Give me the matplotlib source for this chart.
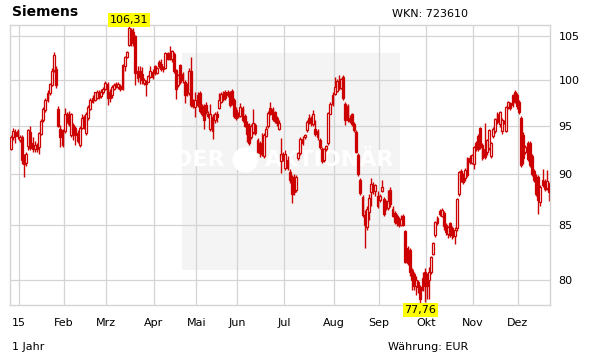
import matplotlib
matplotlib.use("Agg")
import matplotlib.pyplot as plt
from matplotlib.patches import Rectangle, Ellipse
from matplotlib.transforms import blended_transform_factory
from matplotlib.ticker import FixedLocator, NullLocator, FixedFormatter, NullFormatter

# ---- data (daily OHLC, trading-day index) ----
opens = [
    92.6, 93.8, 94.3, 94.4, 93.5, 93.8, 91.9, 91.1, 92.9, 94.3, 93.2, 92.6,
    93.0, 92.8, 94.1, 95.6, 96.7, 97.8, 98.5, 99.4, 101.1, 101.2, 96.8, 94.6,
    93.0, 94.4, 96.3, 96.3, 94.0, 95.1, 94.8, 93.4, 93.0, 94.8, 95.9, 94.2,
    95.8, 96.8, 97.6, 97.8, 98.0, 98.7, 98.2, 98.6, 99.0, 99.5, 98.6, 98.3,
    99.0, 99.5, 99.2, 99.3, 99.0, 101.6, 102.6, 104.0, 105.7, 105.5, 105.0, 101.0,
    101.0, 100.6, 99.6, 99.8, 99.8, 100.3, 100.9, 101.5, 100.8, 102.0, 101.8, 101.4,
    101.3, 103.0, 103.0, 102.3, 102.9, 101.1, 99.4, 101.7, 100.6, 99.8, 99.4, 98.5,
    101.0, 97.6, 97.0, 97.2, 98.5, 97.0, 97.1, 97.2, 96.3, 94.6, 95.9, 95.6,
    96.3, 96.9, 97.6, 98.4, 98.6, 98.3, 98.6, 98.8, 97.8, 96.7, 96.3, 96.0,
    96.9, 96.0, 95.2, 95.0, 93.8, 94.3, 95.1, 93.5, 93.2, 93.0, 91.8, 93.9,
    95.0, 96.9, 96.8, 96.5, 95.8, 94.7, 91.3, 92.0, 90.6, 91.4, 90.2, 89.7,
    89.0, 88.4, 91.6, 92.1, 93.2, 93.8, 94.5, 95.8, 95.8, 95.2, 94.6, 94.4,
    93.5, 92.6, 91.4, 92.6, 93.2, 96.3, 97.3, 98.4, 98.8, 99.9, 99.1, 100.3,
    97.3, 97.1, 95.8, 96.2, 95.2, 94.3, 91.9, 89.4, 87.7, 86.0, 84.8, 86.3,
    88.2, 88.9, 88.3, 87.8, 87.4, 88.3, 87.5, 87.2, 86.7, 88.4, 86.6, 86.2,
    85.9, 85.5, 85.0, 85.9, 84.5, 82.9, 82.7, 80.9, 80.5, 79.4, 79.8, 79.3,
    79.1, 80.7, 80.3, 80.0, 80.7, 82.3, 84.1, 85.2, 86.4, 85.9, 86.2, 85.0,
    84.2, 85.2, 84.7, 84.0, 84.7, 88.0, 90.3, 89.9, 89.6, 89.9, 91.6, 91.1,
    91.0, 93.2, 93.9, 94.8, 93.0, 92.6, 92.2, 92.7, 91.8, 93.9, 94.4, 96.3,
    95.2, 94.4, 95.4, 94.4, 97.0, 97.4, 97.2, 98.6, 98.3, 97.6, 95.8, 94.0,
    92.2, 93.2, 93.2, 91.8, 90.3, 89.7, 89.7, 87.2, 89.4, 89.3, 88.6, 89.0,
]
highs = [
    94.0, 94.8, 94.6, 94.7, 94.0, 94.0, 92.0, 92.3, 94.6, 95.0, 93.8, 93.4,
    93.2, 94.3, 95.7, 97.0, 98.0, 98.9, 99.6, 101.3, 103.2, 101.5, 97.1, 95.1,
    94.6, 96.9, 96.5, 96.6, 96.4, 95.3, 95.0, 94.5, 95.0, 96.2, 96.1, 96.5,
    97.2, 98.0, 98.3, 98.7, 98.9, 98.9, 99.0, 99.2, 99.9, 99.7, 99.0, 99.4,
    99.6, 99.8, 99.7, 99.5, 101.8, 102.7, 103.3, 106.31, 106.0, 106.0, 105.1, 101.6,
    101.5, 101.4, 100.2, 100.0, 100.5, 101.6, 101.2, 101.7, 101.4, 102.2, 102.3, 101.6,
    103.2, 103.1, 103.8, 103.4, 103.1, 101.2, 100.7, 101.8, 100.9, 100.0, 99.6, 101.3,
    102.6, 97.9, 98.6, 98.6, 98.8, 97.3, 97.3, 97.5, 96.6, 97.3, 96.3, 96.5,
    96.6, 98.5, 98.6, 98.8, 98.9, 98.9, 98.8, 99.0, 98.0, 97.0, 96.5, 97.4,
    97.1, 96.2, 95.5, 95.3, 95.2, 96.8, 95.3, 93.7, 93.4, 94.2, 94.2, 95.0,
    96.6, 97.6, 97.0, 96.6, 96.0, 95.6, 93.7, 92.3, 92.5, 91.8, 90.5, 89.9,
    90.0, 89.9, 92.3, 93.8, 93.9, 94.1, 95.6, 96.3, 96.0, 96.7, 95.6, 94.6,
    93.7, 92.8, 92.7, 93.0, 96.5, 97.5, 98.6, 100.3, 100.1, 100.5, 100.2, 100.5,
    97.5, 97.3, 96.1, 96.4, 95.4, 94.5, 92.1, 89.6, 87.9, 86.5, 86.9, 88.0,
    89.6, 89.2, 89.0, 88.3, 88.0, 89.4, 87.7, 87.4, 88.4, 88.7, 86.9, 86.4,
    86.1, 85.8, 86.0, 86.1, 84.6, 83.1, 82.9, 81.0, 80.7, 80.3, 80.0, 79.5,
    80.7, 81.0, 80.6, 81.1, 82.1, 83.4, 85.4, 85.9, 86.6, 86.7, 86.4, 85.2,
    84.9, 85.3, 84.9, 84.8, 87.6, 90.3, 90.5, 90.1, 90.6, 91.7, 91.9, 92.0,
    92.9, 93.4, 94.1, 94.9, 93.2, 95.3, 93.6, 94.6, 93.3, 94.9, 95.8, 96.5,
    96.6, 95.8, 95.6, 97.1, 97.7, 97.6, 98.4, 98.9, 98.5, 97.8, 96.0, 94.3,
    93.0, 93.4, 93.4, 92.0, 90.5, 90.0, 89.9, 88.9, 90.5, 89.5, 90.4, 89.2,
]
lows = [
    92.5, 93.5, 93.2, 93.6, 93.3, 91.0, 89.7, 90.8, 92.5, 92.5, 92.3, 92.2,
    92.3, 92.0, 94.0, 95.4, 96.5, 97.6, 98.3, 99.3, 100.9, 99.1, 94.9, 92.8,
    92.8, 94.2, 95.3, 95.0, 93.8, 93.5, 93.0, 93.2, 92.8, 94.7, 94.6, 94.0,
    95.6, 96.7, 97.4, 97.7, 97.9, 97.9, 98.0, 98.4, 98.9, 97.2, 97.6, 98.0,
    98.9, 99.1, 99.0, 98.8, 98.9, 101.0, 102.5, 103.9, 103.9, 103.8, 99.4, 99.7,
    99.5, 99.5, 99.4, 98.2, 99.7, 100.2, 100.1, 100.5, 100.7, 101.3, 101.0, 100.9,
    101.2, 102.2, 102.2, 102.0, 100.8, 97.9, 99.2, 99.5, 99.6, 97.4, 98.2, 98.3,
    97.0, 96.9, 95.9, 97.0, 96.4, 96.0, 94.6, 96.3, 95.8, 94.4, 93.6, 95.3,
    95.4, 96.8, 97.4, 97.7, 97.8, 98.1, 97.0, 97.2, 95.8, 95.6, 95.8, 95.9,
    95.4, 94.9, 93.3, 93.0, 93.6, 94.1, 94.0, 92.1, 91.7, 91.8, 91.6, 93.8,
    94.8, 96.1, 95.5, 95.3, 95.0, 94.5, 90.1, 91.3, 90.4, 90.4, 89.1, 87.1,
    87.9, 88.2, 91.4, 91.9, 93.0, 93.6, 94.3, 95.2, 95.0, 95.0, 93.9, 93.5,
    92.6, 91.1, 91.2, 92.4, 93.0, 96.2, 97.1, 98.3, 98.6, 98.9, 99.0, 97.8,
    95.1, 95.4, 95.3, 95.0, 94.3, 92.1, 89.8, 87.9, 85.8, 82.9, 84.6, 85.5,
    86.9, 88.0, 87.8, 86.7, 87.2, 88.2, 85.9, 86.5, 86.5, 86.8, 85.8, 85.1,
    84.9, 84.8, 84.9, 84.9, 81.5, 81.3, 80.3, 79.1, 79.1, 78.6, 78.8, 77.76,
    79.0, 78.0, 78.3, 78.3, 80.5, 82.2, 83.9, 85.0, 85.9, 85.8, 84.6, 84.1,
    83.8, 83.9, 83.7, 83.2, 84.5, 87.8, 89.2, 89.0, 89.3, 89.7, 91.0, 91.0,
    90.5, 92.4, 92.4, 92.6, 91.4, 91.5, 91.9, 92.5, 91.6, 93.7, 94.2, 95.2,
    94.9, 94.1, 95.2, 94.3, 96.8, 96.7, 97.0, 97.4, 96.8, 96.3, 90.7, 91.0,
    92.0, 91.3, 90.7, 89.8, 89.2, 87.8, 86.1, 86.9, 88.7, 88.3, 88.4, 87.3,
]
closes = [
    93.8, 94.4, 93.9, 93.9, 93.8, 91.4, 91.0, 92.0, 94.5, 92.7, 92.6, 93.0,
    92.6, 94.2, 95.5, 96.8, 97.8, 98.5, 99.5, 101.0, 102.8, 99.4, 95.0, 93.8,
    94.5, 96.2, 95.5, 95.2, 96.2, 94.2, 94.0, 94.2, 94.8, 95.8, 95.3, 96.3,
    97.0, 97.8, 98.0, 98.6, 98.7, 98.1, 98.7, 99.0, 99.6, 98.0, 98.0, 99.2,
    99.4, 99.3, 99.5, 99.0, 101.7, 102.6, 103.2, 106.0, 104.2, 104.3, 100.8, 100.2,
    100.3, 100.0, 100.0, 99.5, 100.4, 101.0, 100.3, 100.8, 101.3, 101.5, 101.2, 101.2,
    103.0, 102.4, 102.4, 103.3, 101.0, 99.0, 100.5, 99.8, 100.0, 98.3, 98.5, 101.0,
    97.2, 97.1, 97.8, 98.3, 96.6, 96.3, 95.6, 96.5, 96.0, 96.3, 94.4, 96.3,
    95.9, 97.8, 98.4, 97.9, 98.0, 98.6, 97.2, 97.4, 96.0, 95.8, 96.0, 97.0,
    95.6, 95.0, 94.1, 93.2, 95.0, 95.3, 94.2, 92.3, 92.1, 92.0, 94.0, 94.7,
    96.4, 96.3, 95.7, 95.5, 95.3, 95.3, 92.0, 91.6, 92.0, 90.6, 89.4, 88.0,
    88.2, 89.7, 92.1, 93.6, 93.6, 94.0, 95.4, 95.4, 95.3, 96.3, 94.1, 93.8,
    92.8, 91.3, 92.6, 92.9, 96.4, 97.3, 98.3, 99.2, 99.9, 99.1, 100.1, 98.0,
    95.6, 95.6, 95.5, 95.2, 94.5, 92.3, 90.0, 88.1, 86.0, 85.0, 86.6, 87.6,
    89.0, 88.4, 88.9, 86.9, 87.8, 88.7, 86.1, 86.8, 87.3, 87.0, 85.9, 85.3,
    85.2, 85.0, 85.6, 85.0, 81.6, 81.5, 80.7, 80.0, 79.4, 80.0, 79.3, 78.3,
    80.1, 79.4, 79.4, 80.7, 82.0, 83.3, 85.3, 85.7, 86.1, 86.5, 84.9, 84.4,
    84.8, 84.1, 83.9, 84.6, 87.5, 90.2, 89.4, 89.2, 90.4, 91.6, 91.2, 91.9,
    92.8, 92.6, 92.6, 92.8, 91.6, 91.7, 93.5, 94.5, 93.2, 94.6, 95.7, 95.4,
    96.5, 95.6, 95.3, 97.0, 97.6, 96.9, 98.3, 97.6, 97.1, 96.5, 90.9, 91.6,
    92.8, 91.5, 90.9, 90.0, 89.4, 88.0, 87.4, 88.7, 88.9, 88.5, 89.3, 88.2,
]

month_labels = ["15", "Feb", "Mrz", "Apr", "Mai", "Jun", "Jul", "Aug",
                "Sep", "Okt", "Nov", "Dez"]
month_start_idx = [4, 25, 45, 67, 87, 106, 128, 151, 172, 194, 216, 237]
price_ticks = [80, 85, 90, 95, 100, 105]
price_tick_labels = ["80", "85", "90", "95", "100", "105"]

title = "Siemens"
wkn = "WKN: 723610"
period = "1 Jahr"
currency = "Währung: EUR"

# ---- figure ----
W, H = 611, 364
RED = "#cc0000"
GRID = "#d4d4d4"
fig = plt.figure(figsize=(W / 100, H / 100), dpi=100)
fig.patch.set_facecolor("white")
ax = fig.add_axes([10 / W, (H - 305) / H, 540 / W, 280 / H])
ax.set_yscale("log")
n = len(closes)
ax.set_xlim(-0.5, n - 0.5)
ymin, ymax = min(lows), max(highs)
ax.set_ylim(ymin, ymax)

# watermark
ax.add_patch(Rectangle((0.3185, 0.125), 0.404, 0.775, transform=ax.transAxes,
                       facecolor="#f4f4f4", edgecolor="none", zorder=0))
ax.text(0.398, 0.518, "DER", transform=ax.transAxes, ha="right",
        va="center", fontsize=16, fontweight="bold", color="white",
        family="DejaVu Sans", zorder=1.5)
ax.add_patch(Ellipse((0.4355, 0.518), 0.047, 0.09, transform=ax.transAxes,
                     facecolor="white", edgecolor="none", zorder=1.5))
ax.text(0.472, 0.518, "AKTIONÄR", transform=ax.transAxes, ha="left",
        va="center", fontsize=16, fontweight="bold", color="white",
        family="DejaVu Sans", zorder=1.5)

# grid
ax.xaxis.set_major_locator(FixedLocator([i - 0.5 for i in month_start_idx]))
ax.xaxis.set_major_formatter(FixedFormatter(month_labels))
ax.xaxis.set_minor_locator(NullLocator())
ax.yaxis.set_major_locator(FixedLocator(price_ticks))
ax.yaxis.set_major_formatter(FixedFormatter(price_tick_labels))
ax.yaxis.set_minor_locator(NullLocator())
ax.yaxis.set_minor_formatter(NullFormatter())
ax.grid(True, color=GRID, linewidth=0.9, zorder=1)
ax.set_axisbelow(True)
ax.yaxis.tick_right()
ax.tick_params(axis="both", length=0, labelsize=8, colors="black")
ax.tick_params(axis="x", pad=9)
ax.tick_params(axis="y", pad=6)
for s in ax.spines.values():
    s.set_color(GRID)
    s.set_linewidth(1.0)

# candles
xs = list(range(n))
ax.vlines(xs, lows, highs, color=RED, linewidth=1.0, zorder=2)
up = [c >= o for o, c in zip(opens, closes)]
bottoms = [min(o, c) for o, c in zip(opens, closes)]
heights = [max(abs(c - o), 0.05) for o, c in zip(opens, closes)]
faces = ["white" if u else RED for u in up]
ax.bar(xs, heights, bottom=bottoms, width=0.9, color=faces, edgecolor=RED,
       linewidth=0.9, zorder=3)

# max / min labels
tr = blended_transform_factory(ax.transData, ax.transAxes)
imax = highs.index(ymax)
imin = lows.index(ymin)
ax.text(imax, 1.0, f"{ymax:.2f}".replace(".", ","), transform=tr, ha="center",
        va="bottom", fontsize=8, zorder=5,
        bbox=dict(facecolor="#ffff00", edgecolor="none", pad=1.2))
ax.text(imin, 0.0, f"{ymin:.2f}".replace(".", ","), transform=tr, ha="center",
        va="top", fontsize=8, zorder=5,
        bbox=dict(facecolor="#ffff00", edgecolor="none", pad=1.2))

# header / footer texts
fig.text(12 / W, 1 - 12 / H, title, fontsize=10, fontweight="bold", va="center", ha="left")
fig.text(392 / W, 1 - 14 / H, wkn, fontsize=8, va="center", ha="left")
fig.text(12 / W, 1 - 347 / H, period, fontsize=8, va="center", ha="left")
fig.text(388 / W, 1 - 347 / H, currency, fontsize=8, va="center", ha="left")

fig.savefig("out.png", dpi=100)
